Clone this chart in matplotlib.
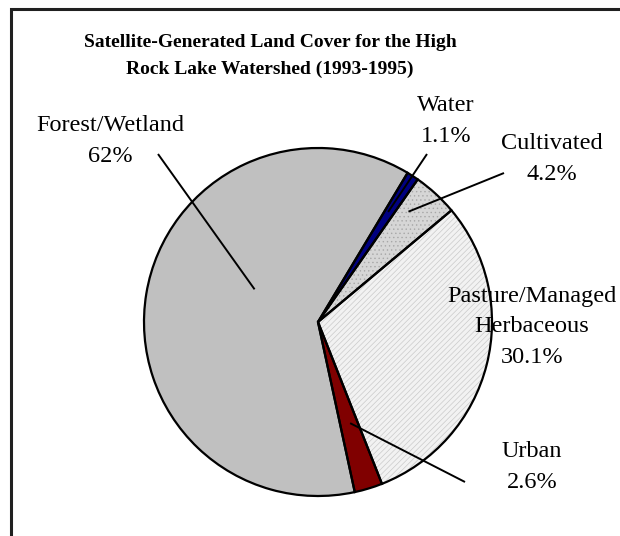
import matplotlib
matplotlib.use("Agg")
import matplotlib.pyplot as plt
import numpy as np
from matplotlib.patches import Rectangle

# ---- data ----
categories = ["Water", "Cultivated", "Pasture/Managed\nHerbaceous", "Urban", "Forest/Wetland"]
values = [1.1, 4.2, 30.1, 2.6, 62.0]
value_labels = ["1.1%", "4.2%", "30.1%", "2.6%", "62%"]
title = "Satellite-Generated Land Cover for the High\nRock Lake Watershed (1993-1995)"

# ---- style ----
colors = ["#000080", "#D6D6D6", "#F2F2F2", "#800000", "#C0C0C0"]
hatches = [None, "....", "//////", None, None]
hatch_colors = ["#000080", "#A8A8A8", "#CACACA", "#800000", "#C0C0C0"]

W, H = 620, 536
plt.rcParams["font.family"] = ["Liberation Serif", "DejaVu Serif"]
plt.rcParams["hatch.linewidth"] = 0.5

fig = plt.figure(figsize=(W / 100, H / 100), dpi=100)
ax = fig.add_axes([0, 0, 1, 1])

center = (318, H - 322)
R = 174
start = 59

# fill + hatch layer
wedges, _ = ax.pie(values, startangle=start, counterclock=False, center=center,
                   radius=R, colors=colors, frame=True,
                   wedgeprops=dict(linewidth=0))
for w, h, hc in zip(wedges, hatches, hatch_colors):
    w.set_edgecolor(hc)
    if h:
        w.set_hatch(h)
# outline layer
outl, _ = ax.pie(values, startangle=start, counterclock=False, center=center,
                 radius=R, colors=["none"] * len(values), frame=True,
                 wedgeprops=dict(linewidth=1.6, edgecolor="black", fill=False))
ax.set_xlim(0, W)
ax.set_ylim(0, H)
ax.set_aspect("equal")
ax.axis("off")

# frame (open at right/bottom as in reference)
ax.add_patch(Rectangle((11, -20), W + 40, H - 9 + 20, fill=False,
                       edgecolor="#202020", linewidth=2.2, clip_on=False))

ax.text(270, H - 56, title, ha="center", va="center", fontsize=14,
        fontweight="bold", linespacing=1.7)

# label layout: (text center x, text center y in px from top, leader t within wedge, radius frac, leader outer end)
layout = {
    "Water": (446, 121, 0.62, 0.75, (427, 154)),
    "Cultivated": (552, 159, 0.71, 0.82, (504, 173)),
    "Pasture/Managed\nHerbaceous": (532, 327, None, None, None),
    "Urban": (532, 467, 0.58, 0.61, (465, 482)),
    "Forest/Wetland": (110, 141, 0.42, 0.41, (158, 154)),
}

for w, cat, vl in zip(wedges, categories, value_labels):
    tx, ty, t, rf, outer = layout[cat]
    ax.text(tx, H - ty, f"{cat}\n{vl}", ha="center", va="center",
            fontsize=17.5, linespacing=1.6)
    if t is not None:
        th = np.deg2rad(w.theta1 + t * (w.theta2 - w.theta1))
        px = w.center[0] + rf * w.r * np.cos(th)
        py = w.center[1] + rf * w.r * np.sin(th)
        ax.plot([px, outer[0]], [py, H - outer[1]], color="black", linewidth=1.4,
                solid_capstyle="butt")

fig.savefig("out.png", dpi=100)
